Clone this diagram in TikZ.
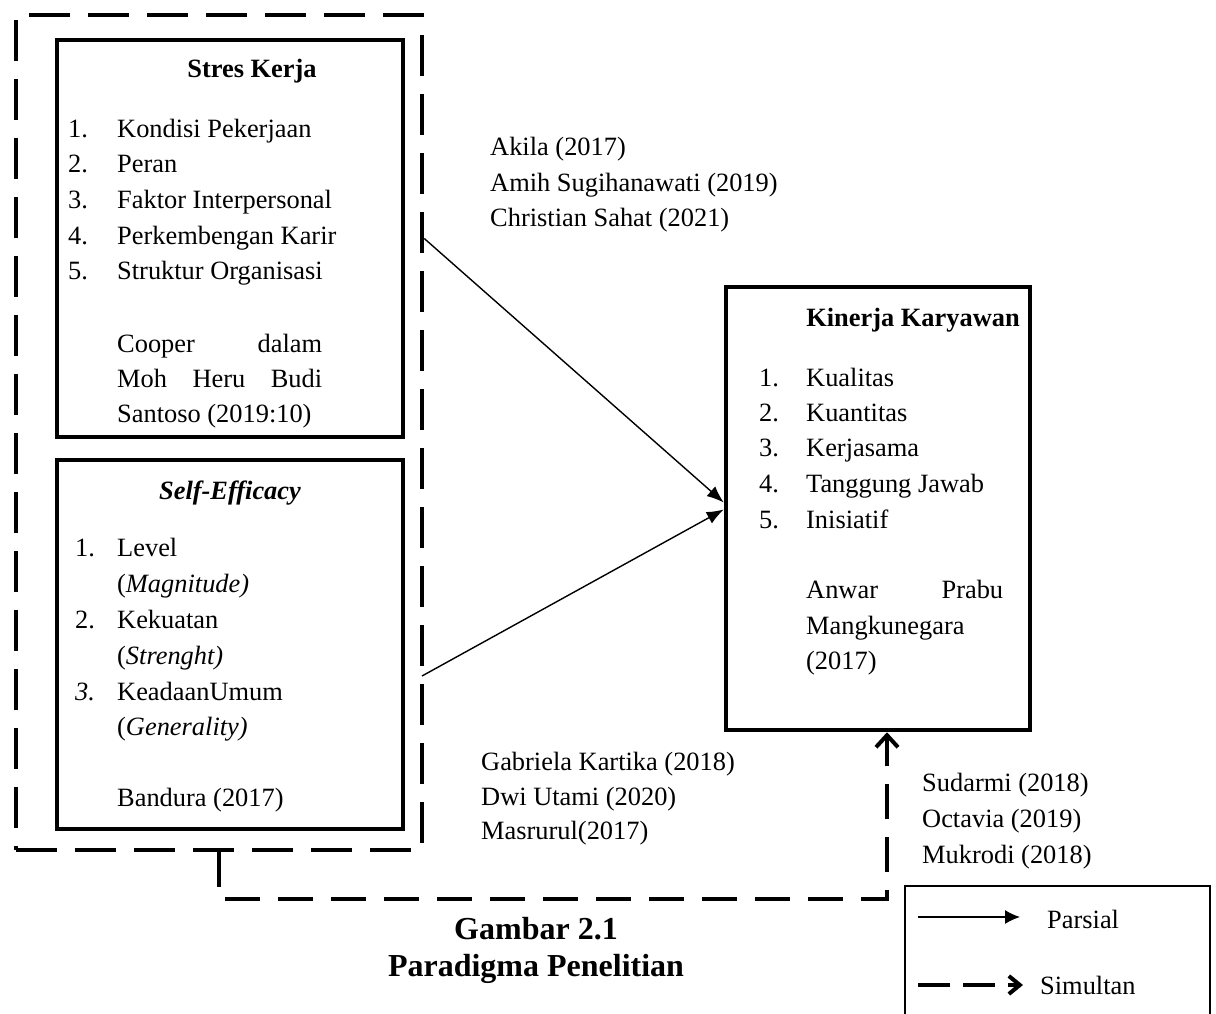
\documentclass[tikz,border=0pt]{standalone}
\usepackage{fontspec}
\setmainfont{Liberation Serif}
\usetikzlibrary{arrows.meta}
\tikzset{
  box/.style={draw, line width=4.5pt, inner sep=0pt},
  dashbox/.style={draw, line width=4.5pt, inner sep=0pt, dash pattern=on 41pt off 18pt},
  txt/.style={anchor=base west, inner sep=0pt, font=\fontsize{26.4}{30}\selectfont},
  ttl/.style={anchor=base, inner sep=0pt, font=\fontsize{26.4}{30}\selectfont\bfseries},
  captxt/.style={anchor=base, inner sep=0pt, font=\fontsize{32}{36}\selectfont\bfseries},
  parsial/.style={line width=1.4pt, -{Latex[length=17pt,width=13pt]}},
  simultan/.style={line width=4pt, dash pattern=on 35pt off 18pt, -{Straight Barb[length=12pt,width=22pt]}},
}
\begin{document}
\begin{tikzpicture}[x=1pt,y=-1pt]
\useasboundingbox (0,0) rectangle (1216,1014);
% boxes
\node[dashbox, minimum width=406pt, minimum height=835pt] (outer) at (219,432.5) {};
\node[box, minimum width=346pt, minimum height=397pt] (sk) at (230,238.5) {};
\node[box, minimum width=346pt, minimum height=369pt] (se) at (230,644.5) {};
\node[box, minimum width=304pt, minimum height=443pt] (kk) at (878,508.5) {};

% Stres Kerja
\node[ttl] (skt) at (252,78) {Stres Kerja};
\node[txt] (sk1n) at (68,138) {1.};  \node[txt] (sk1) at (117,138) {Kondisi Pekerjaan};
\node[txt] (sk2n) at (68,172) {2.};  \node[txt] (sk2) at (117,172) {Peran};
\node[txt] (sk3n) at (68,208) {3.};  \node[txt] (sk3) at (117,208) {Faktor Interpersonal};
\node[txt] (sk4n) at (68,244) {4.};  \node[txt] (sk4) at (117,244) {Perkembengan Karir};
\node[txt] (sk5n) at (68,279) {5.};  \node[txt] (sk5) at (117,279) {Struktur Organisasi};
\node[txt] (sks1) at (117,352) {\makebox[205pt][s]{Cooper dalam}};
\node[txt] (sks2) at (117,387) {\makebox[205pt][s]{Moh Heru Budi}};
\node[txt] (sks3) at (117,422) {Santoso (2019:10)};

% Self-Efficacy
\node[ttl] (set) at (230,499) {\itshape Self-Efficacy};
\node[txt] (se1n) at (75,556) {1.};  \node[txt] (se1) at (117,556) {Level};
\node[txt] (se1b) at (117,592) {(\textit{Magnitude)}};
\node[txt] (se2n) at (75,628) {2.};  \node[txt] (se2) at (117,628) {Kekuatan};
\node[txt] (se2b) at (117,664) {(\textit{Strenght)}};
\node[txt] (se3n) at (75,700) {\textit{3.}};  \node[txt] (se3) at (117,700) {KeadaanUmum};
\node[txt] (se3b) at (117,735) {(\textit{Generality)}};
\node[txt] (ses) at (117,806) {Bandura (2017)};

% Kinerja Karyawan
\node[ttl] (kkt) at (913,326) {Kinerja Karyawan};
\node[txt] (kk1n) at (759,386) {1.};  \node[txt] (kk1) at (806,386) {Kualitas};
\node[txt] (kk2n) at (759,421) {2.};  \node[txt] (kk2) at (806,421) {Kuantitas};
\node[txt] (kk3n) at (759,456) {3.};  \node[txt] (kk3) at (806,456) {Kerjasama};
\node[txt] (kk4n) at (759,492) {4.};  \node[txt] (kk4) at (806,492) {Tanggung Jawab};
\node[txt] (kk5n) at (759,528) {5.};  \node[txt] (kk5) at (806,528) {Inisiatif};
\node[txt] (kks1) at (806,598) {\makebox[197pt][s]{Anwar Prabu}};
\node[txt] (kks2) at (806,634) {Mangkunegara};
\node[txt] (kks3) at (806,669) {(2017)};

% reference labels
\node[txt] (r1) at (490,156) {Akila (2017)};
\node[txt] (r2) at (490,191) {Amih Sugihanawati (2019)};
\node[txt] (r3) at (490,226) {Christian Sahat (2021)};
\node[txt] (r4) at (481,770) {Gabriela Kartika (2018)};
\node[txt] (r5) at (481,805) {Dwi Utami (2020)};
\node[txt] (r6) at (481,839) {Masrurul(2017)};
\node[txt] (r7) at (922,791) {Sudarmi (2018)};
\node[txt] (r8) at (922,827) {Octavia (2019)};
\node[txt] (r9) at (922,863) {Mukrodi (2018)};

% caption
\node[captxt] (c1) at (536,939) {Gambar 2.1};
\node[captxt] (c2) at (536,976) {Paradigma Penelitian};

% connectors
\coordinate (a2) at (422,676);
\draw[parsial] (sk.east -| outer.east) -- ([yshift=6pt]kk.west);
\draw[parsial] (a2) -- ([yshift=-1pt]kk.west);
\draw[simultan] (outer.south) -- ++(0,47) -| ([xshift=9pt]kk.south);

% legend
\draw[line width=1.4pt] (905,1030) -- (905,886) -- (1210,886) -- (1210,1030);
\coordinate (lp1) at (918,917); \coordinate (lp2) at (1020,917);
\coordinate (ls1) at (918,985); \coordinate (ls2) at (1023,985);
\draw[line width=1.4pt, -{Latex[length=15pt,width=14pt]}] (lp1) -- (lp2);
\draw[line width=4pt, dash pattern=on 32pt off 13pt, -{Straight Barb[length=11pt,width=18pt]}] (ls1) -- (ls2);
\node[txt] (lpt) at (1047,928) {Parsial};
\node[txt] (lst) at (1040,994) {Simultan};
\end{tikzpicture}
\end{document}
